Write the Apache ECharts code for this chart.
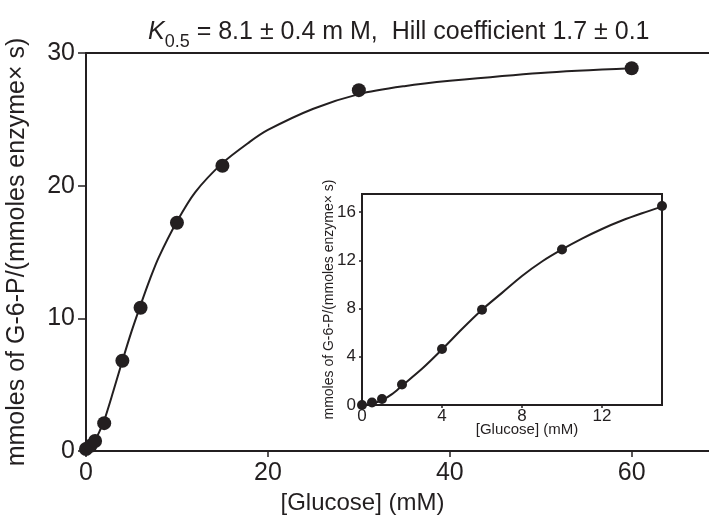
<!DOCTYPE html>
<html>
<head>
<meta charset="utf-8">
<script src="https://cdn.jsdelivr.net/npm/echarts@6/dist/echarts.min.js"></script>
<style>
  html, body { margin: 0; padding: 0; background: #fff; }
  #chart { width: 709px; height: 515px; }
</style>
</head>
<body>
<div id="chart"></div>
<script>
// main plot: measured points
const glucose = [0, 0.5, 1, 2, 4, 6, 10, 15, 30, 60];
const rate = [0.15, 0.4, 0.75, 2.1, 6.8, 10.8, 17.2, 21.5, 27.2, 28.85];
// main plot: fitted curve
const fitX = [0, 0.5, 1, 1.5, 2, 3, 4, 5, 6, 7, 8, 10, 12, 15, 18, 20, 25, 30, 35, 40, 50, 60];
const fitY = [0, 0.25, 0.8, 1.5, 2.3, 4.5, 6.8, 9.0, 11.0, 12.9, 14.6, 17.3, 19.5, 21.7, 23.3, 24.2, 25.8, 26.9, 27.5, 27.9, 28.5, 28.85];
// inset: low concentration points
const insetX = [0, 0.5, 1, 2, 4, 6, 10, 15];
const insetY = [0, 0.2, 0.5, 1.7, 4.65, 7.9, 12.9, 16.5];
const insetFitX = [0, 0.5, 1, 1.5, 2, 3, 4, 5, 6, 7, 8, 9, 10, 11, 12, 13, 14, 15];
const insetFitY = [0, 0.1, 0.4, 0.9, 1.6, 3.0, 4.6, 6.3, 7.9, 9.3, 10.7, 11.9, 12.9, 13.8, 14.6, 15.3, 15.9, 16.45];
// tick labels
const mainXTicks = [0, 20, 40, 60];
const mainYTicks = [0, 10, 20, 30];
const insetXTicks = [0, 4, 8, 12];
const insetYTicks = [0, 4, 8, 12, 16];

const font = 'Liberation Sans, Arial, sans-serif';
const ink = '#231f20';
const yName = 'mmoles of G-6-P/(mmoles enzyme\u00d7 s)';

const zip = (a, b) => a.map((v, i) => [v, b[i]]);

const chart = echarts.init(document.getElementById('chart'));
const option = {
  animation: false,
  backgroundColor: '#fff',
  textStyle: { fontFamily: font, color: ink },
  title: {
    left: 143,
    top: 10,
    text: '{k|K}{s|0.5}{t| = 8.1 \u00b1 0.4 m M,  Hill coefficient 1.7 \u00b1 0.1}',
    textStyle: {
      fontWeight: 'normal',
      rich: {
        k: { fontFamily: font, fontSize: 25, fontStyle: 'italic', fontWeight: 'normal', color: ink, lineHeight: 30, verticalAlign: 'bottom' },
        s: { fontFamily: font, fontSize: 18, fontWeight: 'normal', color: ink, lineHeight: 30, verticalAlign: 'bottom', padding: [0, 0, -6, 0] },
        t: { fontFamily: font, fontSize: 25, fontWeight: 'normal', color: ink, lineHeight: 30, verticalAlign: 'bottom' }
      }
    }
  },
  grid: [
    { left: 86, right: 0, top: 53, bottom: 64, outerBoundsMode: 'none' },
    {
      left: 362, top: 194, width: 300, height: 211, outerBoundsMode: 'none',
      show: true, backgroundColor: '#fff', borderColor: ink, borderWidth: 2, z: 3
    }
  ],
  xAxis: [
    {
      gridIndex: 0, type: 'value', min: 0, max: 68.5,
      name: '[Glucose] (mM)', nameLocation: 'middle', nameGap: 40, nameMoveOverlap: false,
      nameTextStyle: { fontSize: 24, color: ink, padding: [0, 70, 0, 0] },
      axisLine: { lineStyle: { color: ink, width: 2 } },
      axisTick: { length: 6, lineStyle: { color: ink, width: 1.5 }, customValues: mainXTicks },
      axisLabel: { fontSize: 25, color: ink, margin: 10, customValues: mainXTicks },
      splitLine: { show: false }
    },
    {
      gridIndex: 0, type: 'value', position: 'top', min: 0, max: 68.5,
      axisLine: { show: true, onZero: false, lineStyle: { color: ink, width: 2 } },
      axisTick: { show: false }, axisLabel: { show: false }, splitLine: { show: false }
    },
    {
      gridIndex: 1, type: 'value', min: 0, max: 15,
      name: '[Glucose] (mM)', nameLocation: 'middle', nameGap: 17, nameMoveOverlap: false,
      nameTextStyle: { fontSize: 15, color: ink, padding: [0, 0, 0, 30] },
      axisLine: { show: false },
      axisTick: { length: 3, lineStyle: { color: ink, width: 1.5 }, customValues: insetXTicks },
      axisLabel: { fontSize: 17, color: ink, margin: 3, customValues: insetXTicks },
      splitLine: { show: false }, z: 4
    }
  ],
  yAxis: [
    {
      gridIndex: 0, type: 'value', min: 0, max: 30,
      name: yName, nameLocation: 'middle', nameGap: 56, nameMoveOverlap: false,
      nameTextStyle: { fontSize: 25, color: ink },
      axisLine: { show: true, lineStyle: { color: ink, width: 2 } },
      axisTick: { show: true, length: 8, lineStyle: { color: ink, width: 1.5 }, customValues: mainYTicks },
      axisLabel: { fontSize: 25, color: ink, margin: 11, customValues: mainYTicks },
      splitLine: { show: false }
    },
    {
      gridIndex: 1, type: 'value', min: 0, max: 17.5,
      name: yName, nameLocation: 'middle', nameGap: 26, nameMoveOverlap: false,
      nameTextStyle: { fontSize: 14, color: ink },
      axisLine: { show: false },
      axisTick: { show: true, length: 3, lineStyle: { color: ink, width: 1.5 }, customValues: insetYTicks },
      axisLabel: { fontSize: 17, color: ink, margin: 6, customValues: insetYTicks },
      splitLine: { show: false }, z: 4
    }
  ],
  series: [
    {
      type: 'line', xAxisIndex: 0, yAxisIndex: 0, data: zip(fitX, fitY),
      smooth: 0.3, showSymbol: false, silent: true,
      lineStyle: { color: ink, width: 2 }, z: 2
    },
    {
      type: 'scatter', xAxisIndex: 0, yAxisIndex: 0, data: zip(glucose, rate),
      symbolSize: 14, itemStyle: { color: ink, opacity: 1 }, z: 3
    },
    {
      type: 'line', xAxisIndex: 2, yAxisIndex: 1, data: zip(insetFitX, insetFitY),
      smooth: 0.3, showSymbol: false, silent: true,
      lineStyle: { color: ink, width: 2 }, z: 5
    },
    {
      type: 'scatter', xAxisIndex: 2, yAxisIndex: 1, data: zip(insetX, insetY),
      symbolSize: 10, itemStyle: { color: ink, opacity: 1 }, z: 6
    }
  ]
};
chart.setOption(option);
window.addEventListener('resize', () => chart.resize());
</script>
</body>
</html>
